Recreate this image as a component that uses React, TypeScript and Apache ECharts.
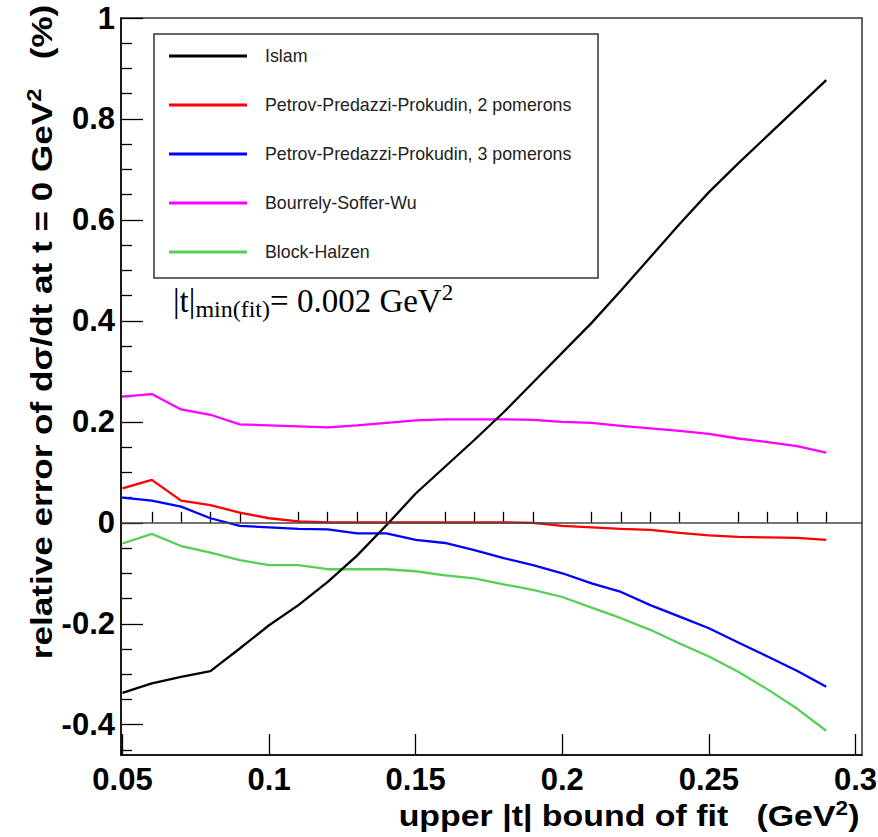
import React, { useEffect, useRef } from 'react';
import * as echarts from 'echarts';

const tValues = [0.05, 0.06, 0.07, 0.08, 0.09, 0.1, 0.11, 0.12, 0.13, 0.14, 0.15, 0.16, 0.17, 0.18, 0.19, 0.2, 0.21, 0.22, 0.23, 0.24, 0.25, 0.26, 0.27, 0.28, 0.29];
const islam = [-0.337, -0.318, -0.305, -0.294, -0.249, -0.203, -0.163, -0.117, -0.065, -0.005, 0.058, 0.111, 0.164, 0.219, 0.278, 0.337, 0.396, 0.46, 0.526, 0.592, 0.655, 0.712, 0.767, 0.822, 0.877];
const ppp2 = [0.068, 0.085, 0.044, 0.035, 0.02, 0.009, 0.003, 0.001, 0.001, 0.001, 0.001, 0.001, 0.001, 0.001, 0.0, -0.006, -0.009, -0.012, -0.014, -0.02, -0.025, -0.028, -0.029, -0.03, -0.034];
const ppp3 = [0.05, 0.044, 0.032, 0.009, -0.006, -0.009, -0.012, -0.013, -0.021, -0.021, -0.034, -0.04, -0.054, -0.07, -0.084, -0.1, -0.12, -0.137, -0.163, -0.186, -0.209, -0.237, -0.265, -0.293, -0.325];
const bsw = [0.25, 0.255, 0.2245, 0.214, 0.195, 0.193, 0.191, 0.189, 0.193, 0.198, 0.203, 0.205, 0.205, 0.205, 0.204, 0.2, 0.198, 0.192, 0.187, 0.182, 0.176, 0.167, 0.16, 0.152, 0.139];
const blockHalzen = [-0.041, -0.022, -0.046, -0.059, -0.074, -0.084, -0.084, -0.092, -0.092, -0.092, -0.096, -0.104, -0.11, -0.122, -0.133, -0.147, -0.168, -0.189, -0.212, -0.239, -0.265, -0.295, -0.33, -0.368, -0.412];

const seriesNames = [
  'Islam',
  'Petrov-Predazzi-Prokudin, 2 pomerons',
  'Petrov-Predazzi-Prokudin, 3 pomerons',
  'Bourrely-Soffer-Wu',
  'Block-Halzen',
];
const seriesColors = ['#000000', '#ff0000', '#0000ff', '#ff00ff', '#55d055'];
const seriesValues = [islam, ppp2, ppp3, bsw, blockHalzen];

const xMajorTicks = [0.05, 0.1, 0.15, 0.2, 0.25, 0.3];
const xMinorTicks = [0.06, 0.07, 0.08, 0.09, 0.11, 0.12, 0.13, 0.14, 0.16, 0.17, 0.18, 0.19, 0.21, 0.22, 0.23, 0.24, 0.26, 0.27, 0.28, 0.29];
const yMajorTicks = [-0.4, -0.2, 0, 0.2, 0.4, 0.6, 0.8, 1];
const yMinorTicks = [-0.45, -0.35, -0.3, -0.25, -0.15, -0.1, -0.05, 0.05, 0.1, 0.15, 0.25, 0.3, 0.35, 0.45, 0.5, 0.55, 0.65, 0.7, 0.75, 0.85, 0.9, 0.95];

const X_MIN = 0.0495;
const X_MAX = 0.3022;
const Y_MIN = -0.46;
const Y_MAX = 1;

const fmt = (v: number) => String(parseFloat(Number(v).toFixed(3)));

export default function App() {
  const ref = useRef<HTMLDivElement>(null);

  useEffect(() => {
    if (!ref.current) return;
    const chart = echarts.init(ref.current, null, { renderer: 'svg' });
    const sans = 'Liberation Sans, Arial, Helvetica, sans-serif';
    const serif = 'Liberation Serif, Times New Roman, serif';

    const baseX = {
      type: 'value',
      min: X_MIN,
      max: X_MAX,
      position: 'bottom',
      splitLine: { show: false },
    };
    const baseY = {
      type: 'value',
      min: Y_MIN,
      max: Y_MAX,
      position: 'left',
      splitLine: { show: false },
    };

    const option: any = {
      animation: false,
      backgroundColor: '#ffffff',
      grid: {
        left: 121,
        right: 16,
        top: 18,
        bottom: 82,
        show: true,
        borderColor: '#333333',
        borderWidth: 1.5,
        backgroundColor: 'transparent',
        containLabel: false,
        outerBoundsMode: 'none',
      },
      xAxis: [
        {
          ...baseX,
          axisLine: { show: true, onZero: false, lineStyle: { color: '#000', width: 1.5 } },
          axisTick: { show: true, inside: true, length: 21, customValues: xMajorTicks, lineStyle: { color: '#000', width: 1.3 } },
          axisLabel: {
            show: true,
            customValues: xMajorTicks,
            formatter: fmt,
            margin: 9,
            color: '#000',
            fontFamily: sans,
            fontWeight: 'bold',
            fontSize: 31,
          },
        },
        {
          ...baseX,
          axisLine: { show: false },
          axisTick: { show: true, inside: true, length: 11, customValues: xMinorTicks, lineStyle: { color: '#000', width: 1.3 } },
          axisLabel: { show: false },
        },
      ],
      yAxis: [
        {
          ...baseY,
          axisLine: { show: true, onZero: false, lineStyle: { color: '#000', width: 1.5 } },
          axisTick: { show: true, inside: true, length: 22, customValues: yMajorTicks, lineStyle: { color: '#000', width: 1.3 } },
          axisLabel: {
            show: true,
            customValues: yMajorTicks,
            formatter: fmt,
            margin: 6,
            color: '#000',
            fontFamily: sans,
            fontWeight: 'bold',
            fontSize: 31,
          },
        },
        {
          ...baseY,
          axisLine: { show: false },
          axisTick: { show: true, inside: true, length: 11, customValues: yMinorTicks, lineStyle: { color: '#000', width: 1.3 } },
          axisLabel: { show: false },
        },
      ],
      legend: {
        orient: 'vertical',
        left: 169,
        top: 46,
        padding: 0,
        itemWidth: 78,
        itemHeight: 3,
        itemGap: 29,
        icon: 'rect',
        data: seriesNames,
        selectedMode: false,
        textStyle: {
          fontFamily: sans,
          fontSize: 17.8,
          color: '#222222',
          lineHeight: 20,
          padding: [0, 0, 0, 13],
        },
      },
      graphic: [
        {
          type: 'rect',
          z: 0,
          shape: { x: 154, y: 34, width: 444, height: 244 },
          style: { fill: 'none', stroke: '#333333', lineWidth: 1.5 },
        },
        {
          type: 'text',
          x: 173,
          y: 301,
          style: {
            text: '{m||t|}{s|min(fit)}{m|= 0.002 GeV}{p|2}',
            textVerticalAlign: 'middle',
            textAlign: 'left',
            rich: {
              m: { fontFamily: serif, fontSize: 33, lineHeight: 40, fill: '#000' },
              s: { fontFamily: serif, fontSize: 24, lineHeight: 24, verticalAlign: 'bottom', fill: '#000' },
              p: { fontFamily: serif, fontSize: 23, lineHeight: 23, verticalAlign: 'top', fill: '#000' },
            },
          },
        },
        {
          type: 'text',
          x: 629,
          y: 816,
          scaleX: 1.13,
          style: {
            text: '{m|upper |t| bound of fit   (GeV}{p|2}{m|)}',
            textAlign: 'center',
            textVerticalAlign: 'middle',
            rich: {
              m: { fontFamily: sans, fontWeight: 'bold', fontSize: 30, lineHeight: 36, fill: '#000' },
              p: { fontFamily: sans, fontWeight: 'bold', fontSize: 20, lineHeight: 20, verticalAlign: 'top', fill: '#000' },
            },
          },
        },
        {
          type: 'text',
          x: 42,
          y: 332,
          rotation: Math.PI / 2,
          scaleX: 1.19,
          style: {
            text: '{m|relative error of dσ/dt at t = 0 GeV}{p|2}{m|   (%)}',
            textAlign: 'center',
            textVerticalAlign: 'middle',
            rich: {
              m: { fontFamily: sans, fontWeight: 'bold', fontSize: 29.5, lineHeight: 36, fill: '#000' },
              p: { fontFamily: sans, fontWeight: 'bold', fontSize: 20, lineHeight: 20, verticalAlign: 'top', fill: '#000' },
            },
          },
        },
      ],
      series: seriesNames.map((name, i) => ({
        name,
        type: 'line',
        xAxisIndex: 0,
        yAxisIndex: 0,
        showSymbol: false,
        symbol: 'none',
        color: seriesColors[i],
        itemStyle: { color: seriesColors[i] },
        lineStyle: { color: seriesColors[i], width: 2.3 },
        emphasis: { disabled: true },
        z: i === 0 ? 3 : 2,
        data: tValues.map((t, j) => [t, seriesValues[i][j]]),
        markLine:
          i === 0
            ? {
                silent: true,
                symbol: ['none', 'none'],
                label: { show: false },
                lineStyle: { color: '#444444', width: 1.5, type: 'solid' },
                emphasis: { disabled: true },
                data: [{ yAxis: 0 }],
              }
            : undefined,
      })),
    };

    chart.setOption(option);
    return () => {
      chart.dispose();
    };
  }, []);

  return (
    <div
      ref={ref}
      style={{ position: 'absolute', left: 0, top: 0, width: 878, height: 837 }}
    />
  );
}
